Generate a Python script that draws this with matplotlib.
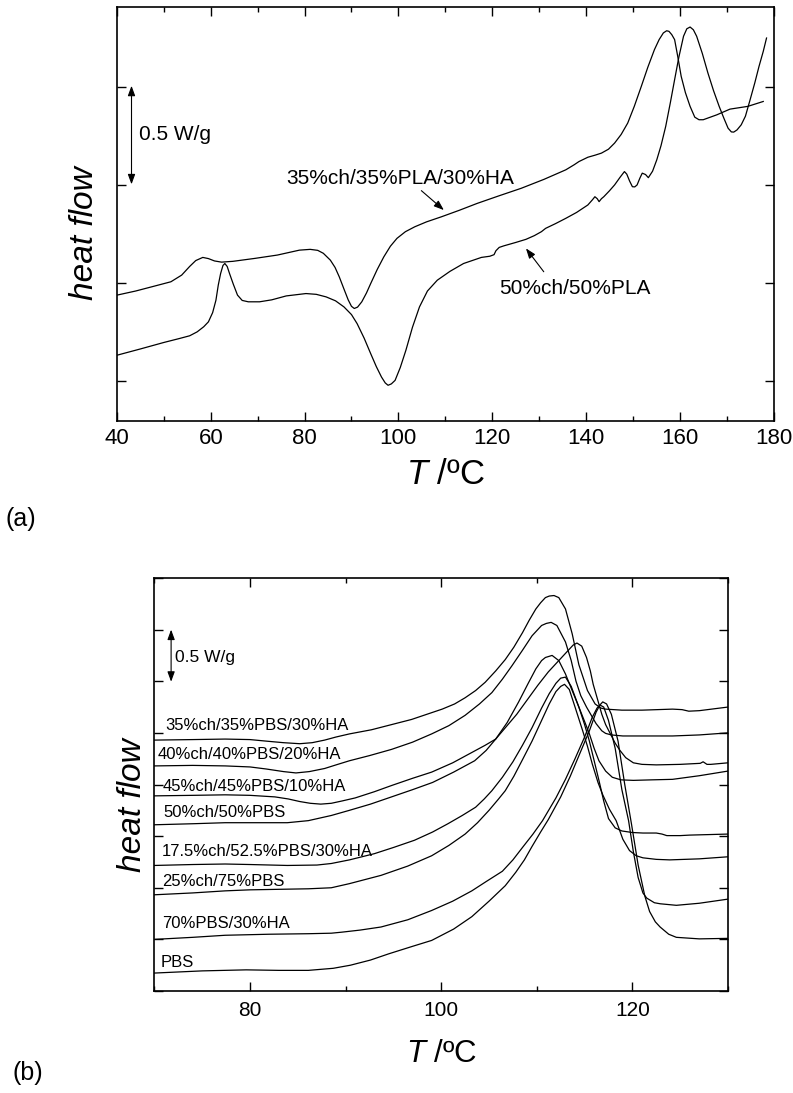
import matplotlib
matplotlib.use("Agg")
import matplotlib.pyplot as plt
from matplotlib.ticker import MultipleLocator, NullFormatter

plt.rcParams["font.family"] = ["Liberation Sans", "DejaVu Sans"]
plt.rcParams["mathtext.fontset"] = "custom"
plt.rcParams["mathtext.rm"] = "Liberation Sans"
plt.rcParams["mathtext.it"] = "Liberation Sans:italic"

# ---- panel (a): PLA blends, T (degC) vs heat flow (W/g, offset) ----
t_pla_ha = [40.0, 44, 48, 51.5, 53.8, 55.5, 56.8, 58.3, 59.5, 60.8, 62.3, 64.7, 69.4, 74.2,
            78.9, 81.2, 82.8, 84.0, 85.5, 86.5, 87.4, 88.4, 89.3, 90.0, 90.6, 91.3, 92.2,
            93.2, 94.1, 95.5, 96.9, 98.3, 99.7, 101.5, 103.5, 106, 109.2, 113, 116.8, 121.5,
            126.2, 131, 135.7, 137.5, 138.5, 140.4, 142, 143.3, 144.8, 146.1, 147.5, 148.9,
            150.3, 151.8, 153.2, 154.6, 155.6, 156.5, 157.2, 157.7, 158.3, 158.9, 159.6,
            160.3, 161.2, 162.2, 163.2, 164.1, 165.0, 167.9, 170.7, 174.5, 177.8]
hf_pla_ha = [-0.061, -0.04, -0.015, 0.007, 0.041, 0.085, 0.115, 0.131, 0.125, 0.113, 0.107,
             0.111, 0.126, 0.143, 0.168, 0.172, 0.167, 0.152, 0.117, 0.08, 0.032, -0.03,
             -0.085, -0.118, -0.129, -0.122, -0.095, -0.05, -0.002, 0.07, 0.134, 0.188,
             0.228, 0.262, 0.287, 0.312, 0.338, 0.371, 0.406, 0.445, 0.483, 0.528, 0.577,
             0.603, 0.619, 0.641, 0.652, 0.662, 0.682, 0.713, 0.757, 0.815, 0.9, 1.002, 1.1,
             1.189, 1.24, 1.274, 1.285, 1.282, 1.265, 1.24, 1.15, 1.053, 0.97, 0.9, 0.845,
             0.832, 0.832, 0.857, 0.886, 0.9, 0.925]

t_pla = [40, 45, 50, 53.3, 55.5, 57.1, 58.5, 59.5, 60.4, 61.1, 61.6, 62.1, 62.6, 63.0, 63.5,
         64.0, 64.8, 65.7, 66.7, 68.0, 70.4, 73, 76.1, 80.3, 82.5, 84.6, 86.6, 88.4, 90,
         91.2, 92.7, 94.1, 95.3, 96.4, 97.2, 97.8, 98.5, 99.3, 100.4, 101.6, 103, 104.5,
         106.2, 108.3, 111, 113.9, 117.7, 119.5, 120.4, 120.8, 121.5, 122.5, 125, 127.2,
         129, 130.5, 131.4, 133.5, 135.7, 138, 140.4, 141.4, 141.9, 142.4, 142.8, 143.3,
         143.8, 145, 146.1, 147.3, 148.2, 148.7, 149.3, 149.9, 150.4, 150.9, 151.5, 152.0,
         152.7, 153.3, 154.2, 155.1, 156, 157.0, 158, 158.9, 159.8, 160.8, 161.5, 162.2,
         162.9, 163.6, 164.8, 166.0, 167.2, 168.4, 169.4, 170.3, 171, 171.5, 172.2, 173.1,
         174, 175.0, 176, 176.9, 177.8, 178.5]
hf_pla = [-0.367, -0.335, -0.302, -0.282, -0.268, -0.248, -0.222, -0.197, -0.15, -0.087,
          -0.01, 0.049, 0.09, 0.1, 0.085, 0.049, -0.005, -0.061, -0.088, -0.095, -0.095,
          -0.085, -0.065, -0.053, -0.057, -0.07, -0.09, -0.121, -0.16, -0.206, -0.28,
          -0.359, -0.425, -0.478, -0.508, -0.52, -0.513, -0.495, -0.43, -0.342, -0.225,
          -0.121, -0.04, 0.015, 0.06, 0.1, 0.131, 0.137, 0.145, 0.165, 0.182, 0.19, 0.207,
          0.223, 0.242, 0.262, 0.279, 0.303, 0.33, 0.36, 0.398, 0.425, 0.44, 0.43, 0.415,
          0.43, 0.44, 0.47, 0.5, 0.54, 0.568, 0.555, 0.52, 0.491, 0.49, 0.5, 0.535, 0.56,
          0.553, 0.537, 0.57, 0.628, 0.7, 0.798, 0.92, 1.036, 1.15, 1.257, 1.295, 1.304,
          1.29, 1.257, 1.17, 1.07, 0.98, 0.9, 0.84, 0.789, 0.77, 0.769, 0.78, 0.806, 0.85,
          0.934, 1.02, 1.104, 1.18, 1.248]

# ---- panel (b): PBS blends ----
t_b1 = [70, 74, 77.4, 80, 81.7, 83.5, 85.2, 86.5, 87.8, 89, 90.4, 92.7, 94.8, 96.9, 98.5,
        100.1, 101.4, 102.5, 103.6, 104.6, 105.7, 106.7, 107.6, 108.5, 109.2, 109.9, 110.4,
        110.9, 111.3, 111.8, 112.3, 113.0, 113.7, 114.4, 115.3, 116.1, 116.7, 117.2, 118.9,
        121, 124.2, 125.2, 125.9, 127, 130]
hf_b1 = [1.93, 1.935, 1.94, 1.935, 1.92, 1.905, 1.895, 1.905, 1.93, 1.96, 1.99, 2.03, 2.08,
         2.13, 2.18, 2.23, 2.28, 2.34, 2.41, 2.49, 2.6, 2.71, 2.83, 2.97, 3.09, 3.2, 3.26,
         3.31, 3.325, 3.33, 3.31, 3.2, 2.96, 2.66, 2.41, 2.28, 2.24, 2.23, 2.22, 2.22, 2.23,
         2.225, 2.21, 2.215, 2.25]

t_b2 = [70, 74, 77.4, 80, 81.7, 83.5, 84.8, 86.2, 87.8, 89, 90.4, 92.5, 94.8, 97, 99, 100.8,
        102.5, 104, 105.3, 106.4, 107.4, 108.5, 109.5, 110.1, 110.5, 111.0, 111.5, 112.1,
        113.0, 113.6, 114.1, 114.6, 115.2, 116.2, 116.8, 117.2, 117.8, 119.0, 124.2, 127,
        130]
hf_b2 = [1.68, 1.685, 1.68, 1.67, 1.65, 1.625, 1.612, 1.625, 1.655, 1.69, 1.73, 1.78, 1.84,
         1.91, 1.99, 2.07, 2.17, 2.28, 2.39, 2.52, 2.65, 2.8, 2.94, 3.0, 3.04, 3.06, 3.07,
         3.04, 2.88, 2.7, 2.5, 2.36, 2.25, 2.09, 2.02, 1.995, 1.98, 1.97, 1.97, 1.98, 2.0]

t_b3 = [70, 74, 77.4, 80, 82.6, 84, 85.2, 86.3, 87.4, 88.5, 89.6, 91, 93, 94.8, 97, 99,
        101.2, 103.2, 104.6, 105.7, 106.8, 107.9, 109, 110.1, 111.2, 112.3, 113.3, 113.8,
        114.2, 114.7, 115.2, 115.6, 115.9, 116.4, 116.8, 117.2, 117.7, 118.2, 118.7, 119.3,
        120.1, 121, 122.5, 125, 127.1, 127.4, 127.8, 128.2, 130]
hf_b3 = [1.39, 1.395, 1.4, 1.395, 1.38, 1.36, 1.335, 1.318, 1.31, 1.318, 1.34, 1.37, 1.43,
         1.49, 1.56, 1.62, 1.71, 1.81, 1.88, 1.94, 2.06, 2.18, 2.32, 2.46, 2.59, 2.7, 2.8,
         2.85, 2.87, 2.84, 2.73, 2.6, 2.47, 2.31, 2.18, 2.08, 1.99, 1.9, 1.83, 1.76, 1.71,
         1.695, 1.69, 1.695, 1.705, 1.72, 1.695, 1.695, 1.71]

t_b4 = [70, 74, 77.4, 80, 83.9, 86.1, 88.5, 90.4, 92.6, 94.8, 97, 99.1, 101.3, 103.5, 104.7,
        105.7, 106.9, 108.1, 109.1, 109.9, 110.5, 110.9, 111.6, 112.3, 113.0, 113.7, 114.4,
        115.0, 115.5, 116.0, 116.5, 117.2, 117.9, 118.8, 120.1, 122, 124.2, 127, 130]
hf_b4 = [1.11, 1.12, 1.13, 1.13, 1.13, 1.15, 1.2, 1.25, 1.31, 1.38, 1.45, 1.52, 1.62, 1.73,
         1.83, 1.94, 2.1, 2.3, 2.48, 2.62, 2.7, 2.73, 2.75, 2.7, 2.57, 2.41, 2.25, 2.11,
         1.99, 1.85, 1.73, 1.63, 1.57, 1.545, 1.54, 1.545, 1.55, 1.585, 1.63]

t_b5 = [70, 74, 77.4, 80, 83.9, 87, 88.5, 90.4, 93.0, 95, 97.2, 99.1, 100.7, 102.2, 103.6,
        104.5, 105.3, 106.4, 107.5, 108.5, 109.5, 110.5, 111.3, 112.0, 112.5, 113.0, 113.6,
        114.4, 115.0, 115.5, 116.0, 116.5, 117.0, 117.5, 118.2, 118.9, 120, 121.1, 122.5,
        123.1, 123.6, 125, 126, 130]
hf_b5 = [0.716, 0.725, 0.73, 0.725, 0.716, 0.72, 0.735, 0.77, 0.83, 0.89, 0.96, 1.04, 1.12,
         1.2, 1.28, 1.36, 1.44, 1.57, 1.72, 1.88, 2.05, 2.24, 2.38, 2.48, 2.53, 2.54, 2.45,
         2.25, 2.08, 1.92, 1.73, 1.54, 1.34, 1.17, 1.08, 1.05, 1.035, 1.03, 1.03, 1.02,
         1.005, 1.005, 1.01, 1.02]

t_b6 = [70, 74, 77.4, 80, 86.1, 88.5, 90.4, 93.7, 96.5, 99.0, 100.8, 102.5, 103.8, 105.0,
        106.0, 106.7, 107.6, 108.5, 109.5, 110.5, 111.3, 112.0, 112.5, 112.9, 113.4, 114.0,
        114.8, 115.3, 115.8, 116.4, 116.9, 117.6, 118.3, 119.0, 119.7, 120.4, 121.1, 122.5,
        123.9, 127, 130]
hf_b6 = [0.432, 0.45, 0.47, 0.48, 0.49, 0.5, 0.54, 0.62, 0.71, 0.81, 0.91, 1.02, 1.13, 1.25,
         1.36, 1.44, 1.58, 1.74, 1.92, 2.12, 2.28, 2.4, 2.45, 2.47, 2.42, 2.25, 2.02, 1.87,
         1.7, 1.52, 1.4, 1.26, 1.15, 0.97, 0.86, 0.81, 0.79, 0.775, 0.77, 0.78, 0.8]

t_b7 = [70, 74, 77.4, 82, 86.1, 88.5, 89.6, 91.5, 93.7, 96.5, 99.0, 101.2, 103.2, 104.7,
        106.4, 107.5, 108.5, 109.6, 110.6, 112.0, 113.0, 114.0, 115.0, 115.8, 116.3, 116.6,
        117.0, 117.5, 118.2, 118.9, 119.6, 120.1, 120.6, 121.1, 121.5, 122.3, 122.9, 124.6,
        127, 130]
hf_b7 = [0.0, 0.02, 0.04, 0.05, 0.055, 0.06, 0.07, 0.09, 0.12, 0.19, 0.28, 0.37, 0.47, 0.56,
         0.66, 0.77, 0.89, 1.02, 1.15, 1.37, 1.55, 1.75, 1.96, 2.15, 2.24, 2.27, 2.25, 2.12,
         1.85, 1.45, 1.15, 0.85, 0.6, 0.45, 0.4, 0.355, 0.345, 0.33, 0.35, 0.39]

t_b8 = [70, 75, 79.6, 83, 86.1, 88.7, 90.5, 92.6, 94.5, 96.9, 99.0, 101.3, 103.2, 105.0,
        106.7, 107.8, 108.7, 109.5, 110.4, 111.2, 112.5, 113.5, 114.5, 115.5, 116.2, 116.6,
        116.9, 117.3, 117.8, 118.5, 119.2, 119.9, 120.6, 121.3, 121.8, 122.4, 122.9, 123.8,
        124.6, 127, 130]
hf_b8 = [-0.326, -0.305, -0.295, -0.3, -0.3, -0.28, -0.25, -0.2, -0.14, -0.07, -0.01, 0.1,
         0.22, 0.37, 0.52, 0.65, 0.77, 0.9, 1.04, 1.16, 1.38, 1.58, 1.8, 2.02, 2.2, 2.27,
         2.3, 2.28, 2.18, 1.92, 1.5, 1.12, 0.72, 0.42, 0.27, 0.17, 0.12, 0.05, 0.02, 0.005,
         0.01]

b_labels = ["35%ch/35%PBS/30%HA", "40%ch/40%PBS/20%HA", "45%ch/45%PBS/10%HA",
            "50%ch/50%PBS", "17.5%ch/52.5%PBS/30%HA", "25%ch/75%PBS",
            "70%PBS/30%HA", "PBS"]


def style_axes(ax):
    for s in ax.spines.values():
        s.set_linewidth(1.2)
    ax.tick_params(which="both", direction="in", top=True, right=True, width=1.0)
    ax.tick_params(which="major", length=6.5)
    ax.tick_params(which="minor", length=3.5)
    ax.yaxis.set_major_formatter(NullFormatter())


fig = plt.figure(figsize=(7.93, 10.93), dpi=100)

# ---------------- (a) ----------------
ax = fig.add_axes([0.1475, 0.6148, 0.8280, 0.3788])
ax.plot(t_pla_ha, hf_pla_ha, color="k", lw=0.9)
ax.plot(t_pla, hf_pla, color="k", lw=0.9)
ax.set_xlim(40, 180)
ax.set_ylim(-0.702, 1.406)
ax.xaxis.set_major_locator(MultipleLocator(20))
ax.xaxis.set_minor_locator(MultipleLocator(10))
ax.yaxis.set_major_locator(MultipleLocator(0.5))
style_axes(ax)
ax.tick_params(axis="x", labelsize=16, pad=5)
ax.set_xlabel("$\\mathit{T}$ /ºC", fontsize=25)
ax.xaxis.set_label_coords(0.5, -0.09)
ax.set_ylabel("heat flow", fontsize=24, style="italic")
ax.yaxis.set_label_coords(-0.026, 0.453)

hd = dict(arrowstyle="<|-|>,head_length=0.6,head_width=0.22", lw=0.8, color="k",
          shrinkA=0, shrinkB=0, mutation_scale=10)
ax.annotate("", xy=(43.1, 1.005), xytext=(43.1, 0.503), arrowprops=hd)
ax.text(44.6, 0.755, "0.5 W/g", fontsize=15, ha="left", va="center")

sd = dict(arrowstyle="-|>,head_length=0.6,head_width=0.22", lw=0.8, color="k",
          shrinkA=0, shrinkB=0, mutation_scale=10)
ax.text(100.3, 0.534, "35%ch/35%PLA/30%HA", fontsize=15, ha="center", va="center")
ax.annotate("", xy=(109.7, 0.372), xytext=(104.9, 0.471), arrowprops=sd)
ax.text(137.7, -0.027, "50%ch/50%PLA", fontsize=15, ha="center", va="center")
ax.annotate("", xy=(127.2, 0.177), xytext=(131.0, 0.058), arrowprops=sd)

# ---------------- (b) ----------------
bx = fig.add_axes([0.1948, 0.0933, 0.7232, 0.3779])
for t, hf in [(t_b1, hf_b1), (t_b2, hf_b2), (t_b3, hf_b3), (t_b4, hf_b4),
              (t_b5, hf_b5), (t_b6, hf_b6), (t_b7, hf_b7), (t_b8, hf_b8)]:
    bx.plot(t, hf, color="k", lw=0.9)
bx.set_xlim(70, 130)
bx.set_ylim(-0.5, 3.5)
bx.xaxis.set_major_locator(MultipleLocator(20))
bx.xaxis.set_minor_locator(MultipleLocator(10))
bx.yaxis.set_major_locator(MultipleLocator(0.5))
style_axes(bx)
bx.tick_params(axis="x", labelsize=15, pad=7)
bx.set_xlabel("$\\mathit{T}$ /ºC", fontsize=22.5)
bx.xaxis.set_label_coords(0.5, -0.116)
bx.set_ylabel("heat flow", fontsize=24, style="italic")
bx.yaxis.set_label_coords(-0.012, 0.45)

bx.annotate("", xy=(71.74, 3.0), xytext=(71.74, 2.495), arrowprops=hd)
bx.text(72.1, 2.73, "0.5 W/g", fontsize=12.5, ha="left", va="center")

label_xy = [(71.1, 2.07), (70.35, 1.79), (70.9, 1.48), (70.95, 1.23),
            (70.8, 0.851), (70.8, 0.564), (70.8, 0.158), (70.65, -0.219)]
for lab, (x, y) in zip(b_labels, label_xy):
    bx.text(x, y, lab, fontsize=12, ha="left", va="center")

fig.text(21 / 793, 1 - 519 / 1093, "(a)", fontsize=18, ha="center", va="center")
fig.text(28 / 793, 1 - 1073 / 1093, "(b)", fontsize=18, ha="center", va="center")

fig.savefig("out.png", dpi=100)
